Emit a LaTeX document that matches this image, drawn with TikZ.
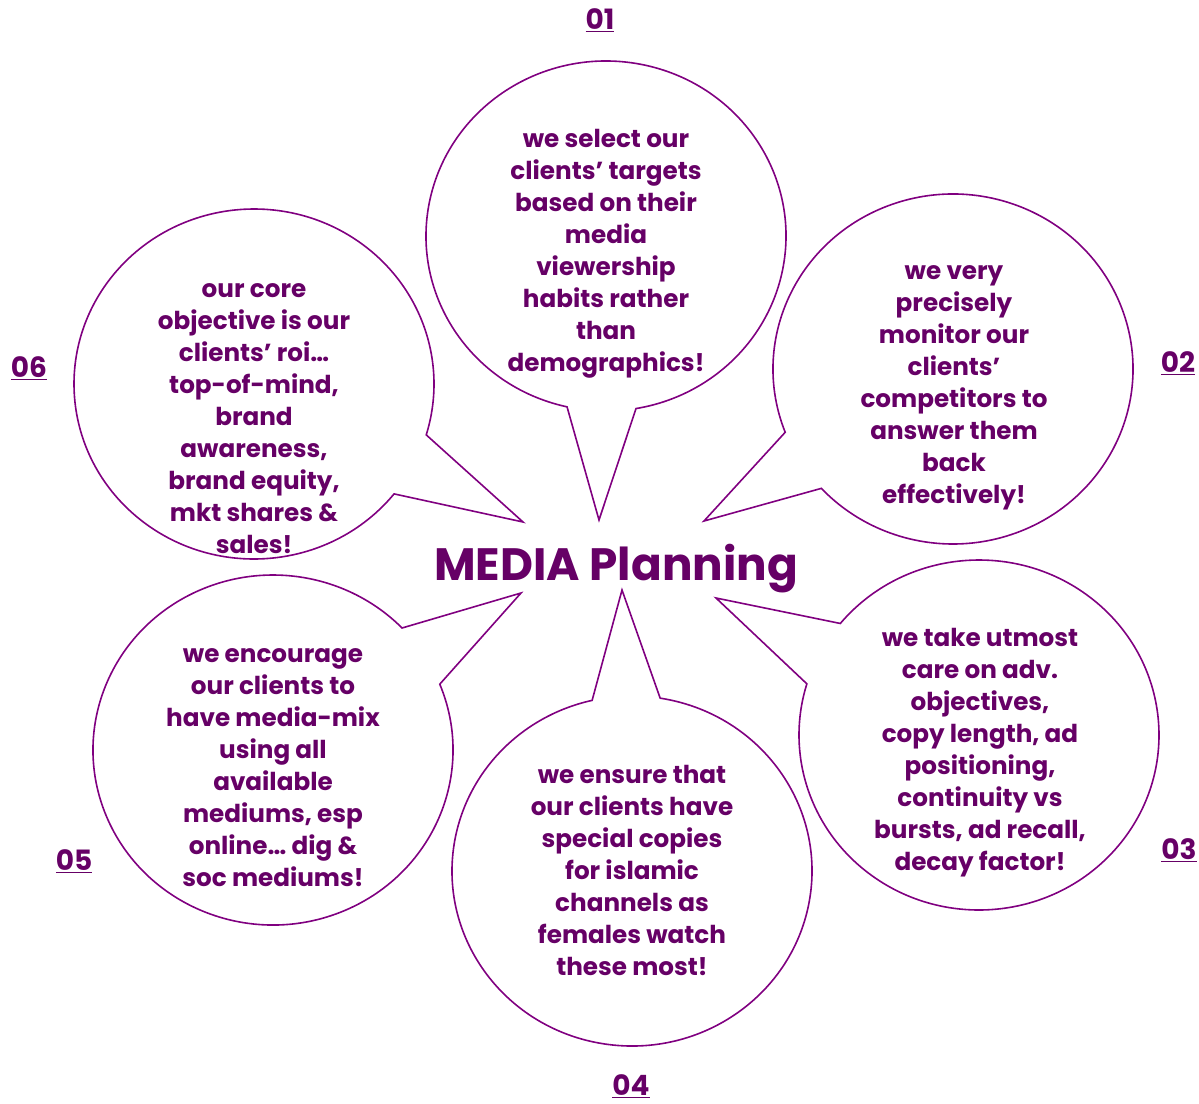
\documentclass[tikz,border=0pt]{standalone}
\usepackage{fontspec}
\setmainfont{Poppins}
\usetikzlibrary{calc}
\definecolor{plum}{RGB}{128,0,128}
\definecolor{plumtext}{RGB}{102,0,102}
\tikzset{
  bubble/.style={draw=plum, line width=1.2pt, line join=miter},
  words/.style={text=plumtext, font=\bfseries\fontsize{18.5}{24}\selectfont, align=center, inner sep=0pt},
  num/.style={text=plumtext, font=\bfseries\fontsize{21}{24}\selectfont, inner sep=0pt, anchor=base},
  title/.style={text=plumtext, font=\bfseries\fontsize{34}{40}\selectfont, inner sep=0pt, anchor=base}
}
\begin{document}
\begin{tikzpicture}[x=0.75pt,y=-0.75pt]
\useasboundingbox (0,0) rectangle (1199,1103);
% centres of the bubbles and tips of their tails
\coordinate (C1) at (606,236); \coordinate (T1) at (599,520);
\coordinate (C2) at (953,369); \coordinate (T2) at (704,521);
\coordinate (C3) at (979,735); \coordinate (T3) at (716,598);
\coordinate (C4) at (632,871); \coordinate (T4) at (622,590);
\coordinate (C5) at (273,750); \coordinate (T5) at (521,593);
\coordinate (C6) at (254,384); \coordinate (T6) at (523,522);
% bubbles
\draw[bubble] ($(C1)+(102.5:180 and 175)$) arc[start angle=102.5, end angle=440.4, x radius=180, y radius=175] -- (T1) -- cycle;
\draw[bubble] ($(C2)+(158.8:180 and 175)$) arc[start angle=158.8, end angle=497, x radius=180, y radius=175] -- (T2) -- cycle;
\draw[bubble] ($(C3)+(219.6:180 and 175)$) arc[start angle=219.6, end angle=557, x radius=180, y radius=175] -- (T3) -- cycle;
\draw[bubble] ($(C4)+(279:180 and 175)$) arc[start angle=279, end angle=617.2, x radius=180, y radius=175] -- (T4) -- cycle;
\draw[bubble] ($(C5)+(-22.1:180 and 175)$) arc[start angle=-22.1, end angle=315.8, x radius=180, y radius=175] -- (T5) -- cycle;
\draw[bubble] ($(C6)+(38.9:180 and 175)$) arc[start angle=38.9, end angle=376.9, x radius=180, y radius=175] -- (T6) -- cycle;
% texts
\node[words] (w1) at (606,254) {we select our\\clients’ targets\\based on their\\media\\viewership\\habits rather\\than\\demographics!};
\node[words] (w2) at (954,388) {we very\\precisely\\monitor our\\clients’\\competitors to\\answer them\\back\\effectively!};
\node[words] (w3) at (980,753) {we take utmost\\care on adv.\\objectives,\\copy length, ad\\positioning,\\continuity vs\\bursts, ad recall,\\decay factor!};
\node[words] (w4) at (632,870) {we ensure that\\our clients have\\special copies\\for islamic\\channels as\\females watch\\these most!};
\node[words] (w5) at (273,768) {we encourage\\our clients to\\have media-mix\\using all\\available\\mediums, esp\\online… dig \&\\soc mediums!};
\node[words] (w6) at (254,419) {our core\\objective is our\\clients’ roi…\\top-of-mind,\\brand\\awareness,\\brand equity,\\mkt shares \&\\sales!};
\node[title] (mp) at (616,580) {MEDIA Planning};
% numbers
\node[num] (n1) at (600,29) {\underline{01}};
\node[num] (n2) at (1178,372) {\underline{02}};
\node[num] (n3) at (1179,859) {\underline{03}};
\node[num] (n4) at (631,1095) {\underline{04}};
\node[num] (n5) at (74,870) {\underline{05}};
\node[num] (n6) at (29,377) {\underline{06}};
\end{tikzpicture}
\end{document}
